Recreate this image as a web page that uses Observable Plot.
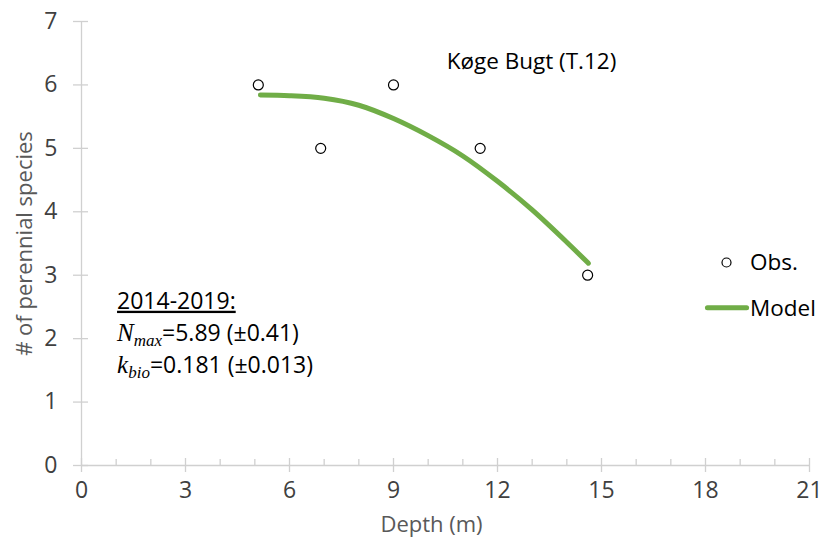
<!DOCTYPE html>
<html>
<head>
<meta charset="utf-8">
<script src="https://cdn.jsdelivr.net/npm/d3@7"></script>
<script src="https://cdn.jsdelivr.net/npm/@observablehq/plot@0.6"></script>
<style>
  html, body { margin: 0; padding: 0; background: #fff; }
  #chart svg { display: block; }
</style>
</head>
<body>
<div id="chart"></div>
<script>
// Observations
const obsDepth = [5.1, 6.9, 9.0, 11.5, 14.6];
const obsSpecies = [6, 5, 6, 5, 3];
// Model curve
const modelDepth = [5.16, 6, 7, 8, 9, 10, 11, 12, 13, 14, 14.62];
const modelSpecies = [5.84, 5.83, 5.79, 5.68, 5.47, 5.20, 4.88, 4.48, 4.03, 3.52, 3.19];
// Axis ticks
const xMajor = [0, 3, 6, 9, 12, 15, 18, 21];
const xMinor = d3.range(0, 22).filter(d => d % 3 !== 0);
const yMajor = [0, 1, 2, 3, 4, 5, 6, 7];
// Texts
const title = "Køge Bugt (T.12)";
const xTitle = "Depth (m)";
const yTitle = "# of perennial species";
const periodLabel = "2014-2019:";
const nmaxText = ["N", "max", "=5.89 (", "±", "0.41)"];
const kbioText = ["k", "bio", "=0.181 (", "±", "0.013)"];
const legendLabels = ["Obs.", "Model"];

const obs = obsDepth.map((d, i) => ({depth: d, n: obsSpecies[i]}));
const model = modelDepth.map((d, i) => ({depth: d, n: modelSpecies[i]}));

const FONT = "'Open Sans', sans-serif";
const axisColor = "#d0d0d0";
const green = "#70ad47";

const chart = Plot.plot({
  width: 831,
  height: 544,
  marginLeft: 81,
  marginRight: 22,
  marginTop: 21,
  marginBottom: 79,
  style: {fontFamily: FONT, background: "#fff"},
  x: {domain: [0, 21]},
  y: {domain: [0, 7]},
  marks: [
    Plot.ruleY([0], {stroke: axisColor, strokeWidth: 1.3}),
    Plot.ruleX([0], {stroke: axisColor, strokeWidth: 1.3}),
    Plot.axisX(xMajor, {tickSize: 14, dy: -7, text: null, label: null, stroke: axisColor, strokeWidth: 1.3}),
    Plot.axisX(xMinor, {tickSize: 6, dy: -6, text: null, label: null, stroke: axisColor, strokeWidth: 1.3}),
    Plot.axisY(yMajor, {tickSize: 15, dx: 7, text: null, label: null, stroke: axisColor, strokeWidth: 1.3}),
    Plot.text(xMajor, {x: d => d, frameAnchor: "bottom", dy: 32, text: d => String(d), fontSize: 23, fill: "#404040"}),
    Plot.text(yMajor, {y: d => d, frameAnchor: "left", dx: -24, textAnchor: "end", text: d => String(d), fontSize: 23, fill: "#404040"}),
    Plot.text([xTitle], {frameAnchor: "bottom", dx: -14, dy: 66, textAnchor: "middle", text: d => d, fontSize: 22, fill: "#595959"}),
    Plot.text([yTitle], {frameAnchor: "left", dx: -57, rotate: -90, textAnchor: "middle", text: d => d, fontSize: 22, fill: "#595959"}),
    Plot.text([title], {frameAnchor: "top", dx: 86, dy: 32, textAnchor: "middle", text: d => d, fontSize: 22.5, fill: "#000"}),
    Plot.line(model, {x: "depth", y: "n", stroke: green, strokeWidth: 5, curve: "monotone-x", strokeLinecap: "round"}),
    Plot.dot(obs, {x: "depth", y: "n", r: 5, stroke: "#000", fill: "#fff", strokeWidth: 1.2}),
    // legend marker
    Plot.dot([legendLabels[0]], {frameAnchor: "top-right", dx: -83, dy: 241, r: 4.5, stroke: "#000", fill: "#fff", strokeWidth: 1.2})
  ]
});

document.getElementById("chart").appendChild(chart);

// Annotation & legend (using the chart's scales)
const sx = chart.scale("x"), sy = chart.scale("y");
const svg = d3.select(chart);
const ann = svg.append("g").attr("font-family", FONT).attr("font-size", 23).attr("fill", "#000").attr("text-anchor", "start");
const ax = sx.apply(1.04);

ann.append("text")
  .attr("x", ax).attr("y", sy.apply(2.59)).attr("dy", "0.35em")
  .attr("text-decoration", "underline")
  .text(periodLabel);

function formulaLine(parts, yv) {
  const t = ann.append("text").attr("x", ax).attr("y", sy.apply(yv)).attr("dy", "0.35em");
  t.append("tspan").attr("font-family", "'Liberation Serif', serif").attr("font-style", "italic").attr("font-size", 25).text(parts[0]);
  t.append("tspan").attr("font-family", "'Liberation Serif', serif").attr("font-style", "italic").attr("font-size", 17).attr("dy", 5).text(parts[1]);
  t.append("tspan").attr("dy", -5).text(parts[2]);
  t.append("tspan").text(parts[3]);
  t.append("tspan").text(parts[4]);
}
formulaLine(nmaxText, 2.085);
formulaLine(kbioText, 1.58);

const leg = svg.append("g").attr("font-family", FONT).attr("font-size", 22.5).attr("fill", "#000").attr("text-anchor", "start");
const lx = sx.apply(19.3);
leg.append("text").attr("x", lx).attr("y", sy.apply(3.2)).attr("dy", "0.35em").text(legendLabels[0]);
leg.append("line")
  .attr("x1", sx.apply(18.07)).attr("x2", sx.apply(19.2))
  .attr("y1", sy.apply(2.48)).attr("y2", sy.apply(2.48))
  .attr("stroke", green).attr("stroke-width", 5).attr("stroke-linecap", "round");
leg.append("text").attr("x", lx).attr("y", sy.apply(2.48)).attr("dy", "0.35em").text(legendLabels[1]);
</script>
</body>
</html>
